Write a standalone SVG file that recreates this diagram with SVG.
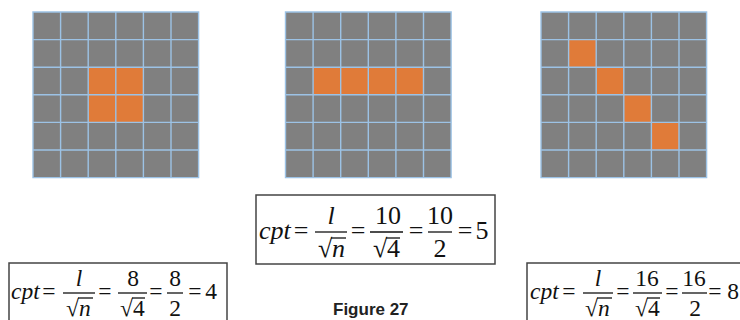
<svg xmlns="http://www.w3.org/2000/svg" xmlns:xlink="http://www.w3.org/1999/xlink" width="740" height="320" viewBox="0 0 740 320">
<style>
.bg{fill:#808080}
.on{fill:#e07b39}
.gl{stroke:#9cc2e5;stroke-width:1.4;fill:none}
.box{fill:#fff;stroke:#444;stroke-width:1.5}
.m{font-family:"Liberation Serif","Times New Roman",serif;fill:#111}
.c{font-size:26px}
.s{font-size:23.5px}
.i{font-style:italic}
.mid{text-anchor:middle}
.bar{stroke:#111;stroke-width:1.3}
.cap{font-family:"Liberation Sans",Arial,sans-serif;font-weight:bold;font-size:17px;fill:#222}
</style>
<defs>
<g id="lines" class="gl">
<path d="M0 0H165.6V165.6H0Z M27.6 0V165.6 M55.2 0V165.6 M82.8 0V165.6 M110.4 0V165.6 M138 0V165.6 M0 27.6H165.6 M0 55.2H165.6 M0 82.8H165.6 M0 110.4H165.6 M0 138H165.6"/>
</g>
<rect id="cell" width="27.6" height="27.6" class="on"/>
</defs>
<rect width="740" height="320" fill="#fff"/>

<g id="grid1" transform="translate(33,12)">
<rect class="bg" width="165.6" height="165.6"/>
<use xlink:href="#cell" x="55.2" y="55.2"/>
<use xlink:href="#cell" x="82.8" y="55.2"/>
<use xlink:href="#cell" x="55.2" y="82.8"/>
<use xlink:href="#cell" x="82.8" y="82.8"/>
<use xlink:href="#lines"/>
</g>

<g id="grid2" transform="translate(285.5,12)">
<rect class="bg" width="165.6" height="165.6"/>
<use xlink:href="#cell" x="27.6" y="55.2"/>
<use xlink:href="#cell" x="55.2" y="55.2"/>
<use xlink:href="#cell" x="82.8" y="55.2"/>
<use xlink:href="#cell" x="110.4" y="55.2"/>
<use xlink:href="#lines"/>
</g>

<g id="grid3" transform="translate(541,12)">
<rect class="bg" width="165.6" height="165.6"/>
<use xlink:href="#cell" x="27.6" y="27.6"/>
<use xlink:href="#cell" x="55.2" y="55.2"/>
<use xlink:href="#cell" x="82.8" y="82.8"/>
<use xlink:href="#cell" x="110.4" y="110.4"/>
<use xlink:href="#lines"/>
</g>

<g id="formula-center">
<rect class="box" x="256" y="195" width="239" height="69"/>
<text class="m c i" x="259" y="239">cpt</text>
<text class="m c mid" x="301" y="239">=</text>
<text class="m c i mid" x="331" y="224">l</text>
<line class="bar" x1="315" y1="232" x2="347" y2="232"/>
<text class="m c" x="318" y="257">√</text>
<text class="m c i" x="332" y="257">n</text>
<line class="bar" x1="331" y1="238" x2="346" y2="238"/>
<text class="m c mid" x="358" y="239">=</text>
<text class="m c mid" x="388" y="224">10</text>
<line class="bar" x1="370" y1="232" x2="403" y2="232"/>
<text class="m c" x="373" y="257">√</text>
<text class="m c" x="387" y="257">4</text>
<line class="bar" x1="386" y1="238" x2="400" y2="238"/>
<text class="m c mid" x="416" y="239">=</text>
<text class="m c mid" x="440" y="224">10</text>
<line class="bar" x1="428" y1="232" x2="452" y2="232"/>
<text class="m c mid" x="440" y="257">2</text>
<text class="m c mid" x="465" y="239">=</text>
<text class="m c mid" x="482" y="239">5</text>
</g>

<g id="formula-left">
<rect class="box" x="9" y="263" width="218" height="70"/>
<text class="m s i" x="11" y="299">cpt</text>
<text class="m s mid" x="49" y="299">=</text>
<text class="m s i mid" x="79" y="286">l</text>
<line class="bar" x1="63" y1="293" x2="95" y2="293"/>
<text class="m s" x="66" y="316">√</text>
<text class="m s i" x="79" y="316">n</text>
<line class="bar" x1="78" y1="298" x2="93" y2="298"/>
<text class="m s mid" x="105" y="299">=</text>
<text class="m s mid" x="133" y="286">8</text>
<line class="bar" x1="118" y1="293" x2="147" y2="293"/>
<text class="m s" x="120" y="316">√</text>
<text class="m s" x="133" y="316">4</text>
<line class="bar" x1="132" y1="298" x2="145" y2="298"/>
<text class="m s mid" x="156" y="299">=</text>
<text class="m s mid" x="175" y="286">8</text>
<line class="bar" x1="167" y1="293" x2="183" y2="293"/>
<text class="m s mid" x="175" y="316">2</text>
<text class="m s mid" x="195" y="299">=</text>
<text class="m s mid" x="211" y="299">4</text>
</g>

<g id="formula-right">
<rect class="box" x="527" y="263" width="220" height="70"/>
<text class="m s i" x="530" y="299">cpt</text>
<text class="m s mid" x="569" y="299">=</text>
<text class="m s i mid" x="598" y="286">l</text>
<line class="bar" x1="583" y1="293" x2="613" y2="293"/>
<text class="m s" x="585" y="316">√</text>
<text class="m s i" x="598" y="316">n</text>
<line class="bar" x1="597" y1="298" x2="612" y2="298"/>
<text class="m s mid" x="623" y="299">=</text>
<text class="m s mid" x="647" y="286">16</text>
<line class="bar" x1="633" y1="293" x2="662" y2="293"/>
<text class="m s" x="635" y="316">√</text>
<text class="m s" x="648" y="316">4</text>
<line class="bar" x1="647" y1="298" x2="660" y2="298"/>
<text class="m s mid" x="672" y="299">=</text>
<text class="m s mid" x="694" y="286">16</text>
<line class="bar" x1="682" y1="293" x2="707" y2="293"/>
<text class="m s mid" x="695" y="316">2</text>
<text class="m s mid" x="715" y="299">=</text>
<text class="m s mid" x="733" y="299">8</text>
</g>

<text class="cap" x="333" y="315">Figure 27</text>
</svg>
